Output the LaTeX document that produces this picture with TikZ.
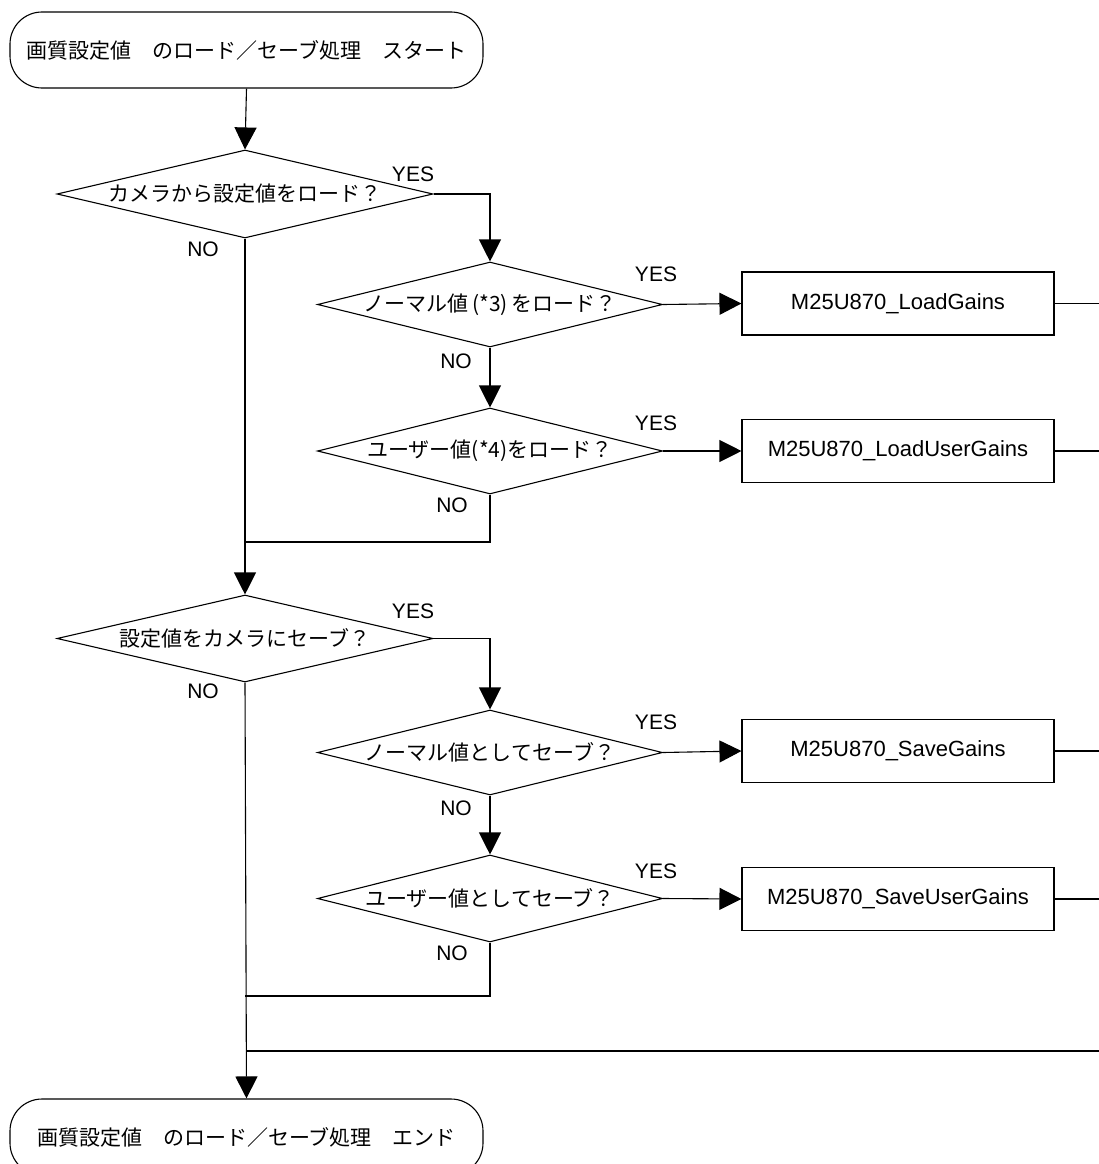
\documentclass[tikz,border=0pt]{standalone}
\usepackage{fontspec}
\setmainfont{Liberation Sans}
\newfontfamily\jpfont{Noto Sans CJK JP}
\usetikzlibrary{positioning,shapes.geometric,arrows.meta}

\tikzset{
    terminal/.style={draw, rounded corners=32pt, minimum width=473pt, minimum height=76pt, inner sep=0pt},
    decision/.style={draw, diamond, aspect=4, inner sep=0pt},
    process/.style={draw, minimum width=312pt, minimum height=63pt, inner sep=0pt,
        font=\fontsize{22}{26}\selectfont},
    flow/.style={-{Triangle[width=22pt,length=22pt]}},
    yesno/.style={inner sep=0pt}
}

\begin{document}
\begin{tikzpicture}[x=1pt, y=-1pt, line width=1.1pt,
    every node/.style={font=\fontsize{21}{25}\selectfont}]
        \useasboundingbox (0,0) rectangle (1099,1164);
        \clip (0,0) rectangle (1099,1164);

        % terminals
        \node[terminal](start) at (246.5,50)
            {\jpfont 画質設定値　のロード／セーブ処理　スタート};
        \node[terminal](stop) at (246.5,1137)
            {\jpfont 画質設定値　のロード／セーブ処理　エンド};

        % load branch
        \node[
            decision,
            minimum width=376pt,
            minimum height=88pt
        ](askload) at (245,194){\jpfont カメラから設定値をロード？};

        \node[
            decision,
            minimum width=345pt,
            minimum height=85pt
        ](loadnorm) at (490,304.5){\jpfont ノーマル値\,(*3)\,をロード？};

        \node[
            decision,
            minimum width=345pt,
            minimum height=86pt
        ](loaduser) at (490,451){\jpfont ユーザー値(*4)をロード？};

        \node[process](loadgains) at (898,303.5){M25U870\_LoadGains};
        \node[process](loadusergains) at (898,451){M25U870\_LoadUserGains};

        % save branch
        \node[
            decision,
            minimum width=376pt,
            minimum height=87pt
        ](asksave) at (245,638.5){\jpfont 設定値をカメラにセーブ？};

        \node[
            decision,
            minimum width=345pt,
            minimum height=85pt
        ](savenorm) at (490,752.5){\jpfont ノーマル値としてセーブ？};

        \node[
            decision,
            minimum width=345pt,
            minimum height=87pt
        ](saveuser) at (490,898.5){\jpfont ユーザー値としてセーブ？};

        \node[process](savegains) at (898,751){M25U870\_SaveGains};
        \node[process](saveusergains) at (898,899){M25U870\_SaveUserGains};

        % YES / NO
        \node[yesno](yes1) at (413,174){YES};
        \node[yesno](no1) at (203,249){NO};
        \node[yesno](yes2) at (656,274){YES};
        \node[yesno](no2) at (456,361){NO};
        \node[yesno](yes3) at (656,423){YES};
        \node[yesno](no3) at (452,505){NO};
        \node[yesno](yes4) at (413,611){YES};
        \node[yesno](no4) at (203,691){NO};
        \node[yesno](yes5) at (656,722){YES};
        \node[yesno](no5) at (456,808){NO};
        \node[yesno](yes6) at (656,871){YES};
        \node[yesno](no6) at (452,953){NO};

        \coordinate (edge) at (1099,0);
        \coordinate (join1) at (245,542);
        \coordinate (join2) at (245,996);
        \coordinate (back) at (1099,1051);

        \draw [flow](start.south) -- (askload.north);
        \draw [flow](askload.east) -| (loadnorm.north);
        \draw [flow](loadnorm.east) -- (loadgains.west);
        \draw [flow](loadnorm.south) -- (loaduser.north);
        \draw [flow](loaduser.east) -- (loadusergains.west);
        \draw (loaduser.south) |- (join1);
        \draw (loadgains.east) -- (loadgains.east -| edge);
        \draw (loadusergains.east) -- (loadusergains.east -| edge);

        \draw [flow](askload.south) -- (asksave.north);
        \draw [flow](asksave.east) -| (savenorm.north);
        \draw [flow](savenorm.east) -- (savegains.west);
        \draw [flow](savenorm.south) -- (saveuser.north);
        \draw [flow](saveuser.east) -- (saveusergains.west);
        \draw (saveuser.south) |- (join2);
        \draw (savegains.east) -- (savegains.east -| edge);
        \draw (saveusergains.east) -- (saveusergains.east -| edge);

        \draw (back) -- (back -| start);
        \draw [flow](asksave.south) -- (stop.north);
    \end{tikzpicture}
\end{document}
